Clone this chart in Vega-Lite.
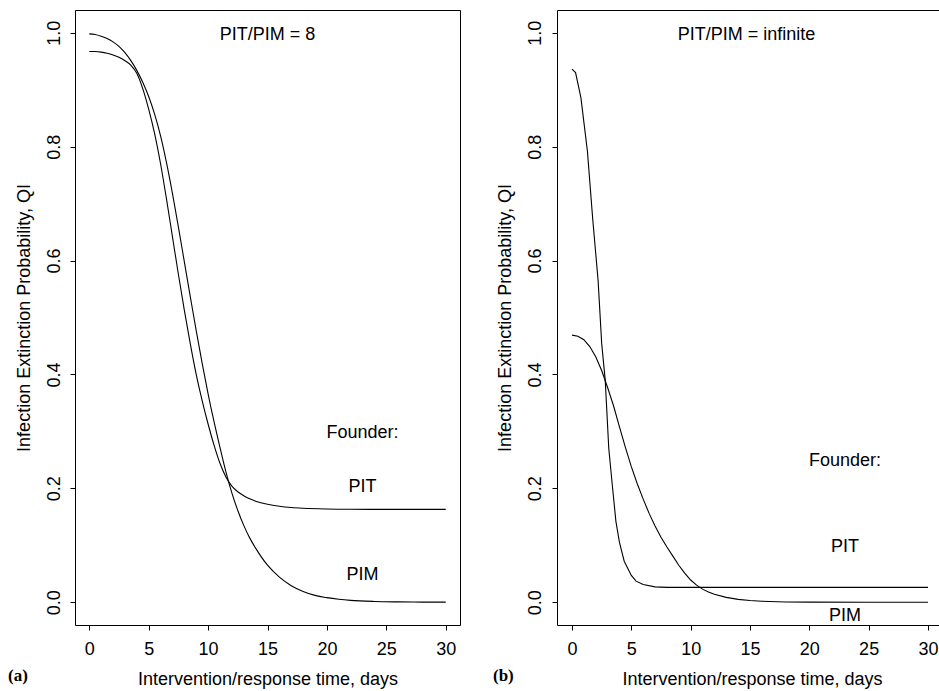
{
  "$schema": "https://vega.github.io/schema/vega-lite/v6.json",
  "padding": {"left": 7, "top": 9, "right": 0, "bottom": 0},
  "background": "white",
  "datasets": {
    "a": [
      {"series": "PIM", "x": 0, "y": 0.998}, {"series": "PIM", "x": 0.5, "y": 0.997}, {"series": "PIM", "x": 1, "y": 0.994}, {"series": "PIM", "x": 1.5, "y": 0.99}, {"series": "PIM", "x": 2, "y": 0.984}, {"series": "PIM", "x": 2.5, "y": 0.976}, {"series": "PIM", "x": 3, "y": 0.965}, {"series": "PIM", "x": 3.5, "y": 0.951}, {"series": "PIM", "x": 4, "y": 0.934}, {"series": "PIM", "x": 4.5, "y": 0.913}, {"series": "PIM", "x": 5, "y": 0.888}, {"series": "PIM", "x": 5.5, "y": 0.857}, {"series": "PIM", "x": 6, "y": 0.819}, {"series": "PIM", "x": 6.5, "y": 0.772}, {"series": "PIM", "x": 7, "y": 0.718}, {"series": "PIM", "x": 7.5, "y": 0.659}, {"series": "PIM", "x": 8, "y": 0.598}, {"series": "PIM", "x": 8.5, "y": 0.537}, {"series": "PIM", "x": 9, "y": 0.477}, {"series": "PIM", "x": 9.5, "y": 0.42}, {"series": "PIM", "x": 10, "y": 0.366}, {"series": "PIM", "x": 10.5, "y": 0.317}, {"series": "PIM", "x": 11, "y": 0.272}, {"series": "PIM", "x": 11.5, "y": 0.229}, {"series": "PIM", "x": 12, "y": 0.192}, {"series": "PIM", "x": 12.5, "y": 0.161}, {"series": "PIM", "x": 13, "y": 0.135}, {"series": "PIM", "x": 13.5, "y": 0.113}, {"series": "PIM", "x": 14, "y": 0.095}, {"series": "PIM", "x": 15, "y": 0.065}, {"series": "PIM", "x": 16, "y": 0.044}, {"series": "PIM", "x": 17, "y": 0.029}, {"series": "PIM", "x": 18, "y": 0.019}, {"series": "PIM", "x": 19, "y": 0.012}, {"series": "PIM", "x": 20, "y": 0.008}, {"series": "PIM", "x": 21, "y": 0.0052}, {"series": "PIM", "x": 22, "y": 0.0033}, {"series": "PIM", "x": 24, "y": 0.0014}, {"series": "PIM", "x": 26, "y": 0.0006}, {"series": "PIM", "x": 28, "y": 0.0002}, {"series": "PIM", "x": 30, "y": 0.0001},
      {"series": "PIT", "x": 0, "y": 0.967}, {"series": "PIT", "x": 0.5, "y": 0.967}, {"series": "PIT", "x": 1, "y": 0.966}, {"series": "PIT", "x": 1.5, "y": 0.964}, {"series": "PIT", "x": 2, "y": 0.961}, {"series": "PIT", "x": 2.5, "y": 0.957}, {"series": "PIT", "x": 3, "y": 0.951}, {"series": "PIT", "x": 3.5, "y": 0.943}, {"series": "PIT", "x": 4, "y": 0.929}, {"series": "PIT", "x": 4.5, "y": 0.902}, {"series": "PIT", "x": 5, "y": 0.866}, {"series": "PIT", "x": 5.5, "y": 0.823}, {"series": "PIT", "x": 6, "y": 0.77}, {"series": "PIT", "x": 6.5, "y": 0.708}, {"series": "PIT", "x": 7, "y": 0.642}, {"series": "PIT", "x": 7.5, "y": 0.576}, {"series": "PIT", "x": 8, "y": 0.513}, {"series": "PIT", "x": 8.5, "y": 0.454}, {"series": "PIT", "x": 9, "y": 0.4}, {"series": "PIT", "x": 9.5, "y": 0.354}, {"series": "PIT", "x": 10, "y": 0.313}, {"series": "PIT", "x": 10.5, "y": 0.276}, {"series": "PIT", "x": 11, "y": 0.244}, {"series": "PIT", "x": 11.5, "y": 0.22}, {"series": "PIT", "x": 12, "y": 0.204}, {"series": "PIT", "x": 12.5, "y": 0.194}, {"series": "PIT", "x": 13, "y": 0.187}, {"series": "PIT", "x": 13.5, "y": 0.1815}, {"series": "PIT", "x": 14, "y": 0.1775}, {"series": "PIT", "x": 15, "y": 0.172}, {"series": "PIT", "x": 16, "y": 0.1685}, {"series": "PIT", "x": 17, "y": 0.1663}, {"series": "PIT", "x": 18, "y": 0.165}, {"series": "PIT", "x": 20, "y": 0.1637}, {"series": "PIT", "x": 22, "y": 0.1632}, {"series": "PIT", "x": 25, "y": 0.163}, {"series": "PIT", "x": 30, "y": 0.163}
    ],
    "b": [
      {"series": "PIT", "x": 0, "y": 0.936}, {"series": "PIT", "x": 0.3, "y": 0.93}, {"series": "PIT", "x": 0.75, "y": 0.886}, {"series": "PIT", "x": 1.3, "y": 0.792}, {"series": "PIT", "x": 1.75, "y": 0.672}, {"series": "PIT", "x": 2.2, "y": 0.565}, {"series": "PIT", "x": 2.5, "y": 0.455}, {"series": "PIT", "x": 2.8, "y": 0.39}, {"series": "PIT", "x": 3.1, "y": 0.27}, {"series": "PIT", "x": 3.4, "y": 0.205}, {"series": "PIT", "x": 3.7, "y": 0.142}, {"series": "PIT", "x": 4, "y": 0.105}, {"series": "PIT", "x": 4.4, "y": 0.072}, {"series": "PIT", "x": 5, "y": 0.047}, {"series": "PIT", "x": 5.4, "y": 0.037}, {"series": "PIT", "x": 6, "y": 0.031}, {"series": "PIT", "x": 7, "y": 0.027}, {"series": "PIT", "x": 8, "y": 0.026}, {"series": "PIT", "x": 30, "y": 0.026},
      {"series": "PIM", "x": 0, "y": 0.469}, {"series": "PIM", "x": 0.5, "y": 0.467}, {"series": "PIM", "x": 1, "y": 0.461}, {"series": "PIM", "x": 1.5, "y": 0.449}, {"series": "PIM", "x": 2, "y": 0.431}, {"series": "PIM", "x": 2.5, "y": 0.407}, {"series": "PIM", "x": 3, "y": 0.377}, {"series": "PIM", "x": 3.5, "y": 0.345}, {"series": "PIM", "x": 4, "y": 0.308}, {"series": "PIM", "x": 4.5, "y": 0.272}, {"series": "PIM", "x": 5, "y": 0.238}, {"series": "PIM", "x": 5.5, "y": 0.208}, {"series": "PIM", "x": 6, "y": 0.181}, {"series": "PIM", "x": 6.5, "y": 0.156}, {"series": "PIM", "x": 7, "y": 0.134}, {"series": "PIM", "x": 7.5, "y": 0.114}, {"series": "PIM", "x": 8, "y": 0.097}, {"series": "PIM", "x": 8.5, "y": 0.081}, {"series": "PIM", "x": 9, "y": 0.065}, {"series": "PIM", "x": 9.5, "y": 0.051}, {"series": "PIM", "x": 10, "y": 0.039}, {"series": "PIM", "x": 10.5, "y": 0.03}, {"series": "PIM", "x": 11, "y": 0.023}, {"series": "PIM", "x": 11.5, "y": 0.018}, {"series": "PIM", "x": 12, "y": 0.014}, {"series": "PIM", "x": 13, "y": 0.0085}, {"series": "PIM", "x": 14, "y": 0.005}, {"series": "PIM", "x": 15, "y": 0.003}, {"series": "PIM", "x": 16, "y": 0.0016}, {"series": "PIM", "x": 18, "y": 0.0005}, {"series": "PIM", "x": 20, "y": 0.0001}, {"series": "PIM", "x": 25, "y": 0}, {"series": "PIM", "x": 30, "y": 0}
    ],
    "alab": [
      {"x": 15, "y": 0.987, "label": "PIT/PIM = 8"},
      {"x": 23, "y": 0.289, "label": "Founder:"},
      {"x": 23, "y": 0.194, "label": "PIT"},
      {"x": 23, "y": 0.0385, "label": "PIM"}
    ],
    "blab": [
      {"x": 14.7, "y": 0.987, "label": "PIT/PIM = infinite"},
      {"x": 23, "y": 0.24, "label": "Founder:"},
      {"x": 23, "y": 0.0887, "label": "PIT"},
      {"x": 23, "y": -0.0325, "label": "PIM"}
    ]
  },
  "hconcat": [
    {
      "width": 385,
      "height": 615,
      "title": {"text": "(a)", "orient": "bottom", "anchor": "start", "frame": "group", "font": "Liberation Serif", "fontWeight": "bold", "fontSize": 17, "color": "black", "baseline": "alphabetic", "offset": 0, "dx": -67, "dy": -7},
      "layer": [
        {
          "data": {"name": "a"},
          "mark": {"type": "line", "interpolate": "monotone", "color": "black", "strokeWidth": 1.1},
          "encoding": {
            "x": {"field": "x", "type": "quantitative", "scale": {"domain": [-1.2, 31.2], "nice": false, "zero": false},
              "axis": {"values": [0, 5, 10, 15, 20, 25, 30], "title": "Intervention/response time, days", "labelPadding": 10, "labelBaseline": "top", "labelFlush": false, "labelOverlap": false, "titleX": 192.5, "titleY": 59.3, "titleBaseline": "alphabetic", "titleAlign": "center"}},
            "y": {"field": "y", "type": "quantitative", "scale": {"domain": [-0.04, 1.04], "nice": false, "zero": false},
              "axis": {"values": [0, 0.2, 0.4, 0.6, 0.8, 1], "format": ".1f", "labelAngle": -90, "labelAlign": "center", "labelBaseline": "alphabetic", "labelPadding": 11, "labelFlush": false, "labelOverlap": false, "title": "Infection Extinction Probability, QI", "titleX": -46, "titleY": 307.5, "titleAngle": -90, "titleAlign": "center", "titleBaseline": "alphabetic"}},
            "detail": {"field": "series"}
          }
        },
        {
          "data": {"name": "alab"},
          "mark": {"type": "text", "font": "Liberation Sans", "fontSize": 18, "align": "center", "baseline": "alphabetic", "color": "black"},
          "encoding": {
            "x": {"field": "x", "type": "quantitative"},
            "y": {"field": "y", "type": "quantitative"},
            "text": {"field": "label"}
          }
        }
      ]
    },
    {
      "width": 382,
      "height": 615,
      "title": {"text": "(b)", "orient": "bottom", "anchor": "start", "frame": "group", "font": "Liberation Serif", "fontWeight": "bold", "fontSize": 17, "color": "black", "baseline": "alphabetic", "offset": 0, "dx": -64, "dy": -7},
      "layer": [
        {
          "data": {"name": "b"},
          "mark": {"type": "line", "interpolate": "linear", "color": "black", "strokeWidth": 1.1},
          "encoding": {
            "x": {"field": "x", "type": "quantitative", "scale": {"domain": [-1.264, 30.93], "nice": false, "zero": false},
              "axis": {"values": [0, 5, 10, 15, 20, 25, 30], "title": "Intervention/response time, days", "labelPadding": 10, "labelBaseline": "top", "labelFlush": false, "labelOverlap": false, "titleX": 195, "titleY": 59.3, "titleBaseline": "alphabetic", "titleAlign": "center"}},
            "y": {"field": "y", "type": "quantitative", "scale": {"domain": [-0.04, 1.04], "nice": false, "zero": false},
              "axis": {"values": [0, 0.2, 0.4, 0.6, 0.8, 1], "format": ".1f", "labelAngle": -90, "labelAlign": "center", "labelBaseline": "alphabetic", "labelPadding": 12, "labelFlush": false, "labelOverlap": false, "title": "Infection Extinction Probability, QI", "titleX": -47, "titleY": 307.5, "titleAngle": -90, "titleAlign": "center", "titleBaseline": "alphabetic"}},
            "detail": {"field": "series"}
          }
        },
        {
          "data": {"name": "blab"},
          "mark": {"type": "text", "font": "Liberation Sans", "fontSize": 18, "align": "center", "baseline": "alphabetic", "color": "black"},
          "encoding": {
            "x": {"field": "x", "type": "quantitative"},
            "y": {"field": "y", "type": "quantitative"},
            "text": {"field": "label"}
          }
        }
      ]
    }
  ],
  "spacing": 97,
  "bounds": "flush",
  "config": {
    "view": {"stroke": "black", "strokeWidth": 1},
    "axis": {"domain": false, "grid": false, "ticks": true, "tickColor": "black", "tickSize": 5, "tickWidth": 1, "labelFont": "Liberation Sans", "labelFontSize": 18, "labelColor": "black", "titleFont": "Liberation Sans", "titleFontSize": 18, "titleFontWeight": "normal", "titleColor": "black"}
  }
}
